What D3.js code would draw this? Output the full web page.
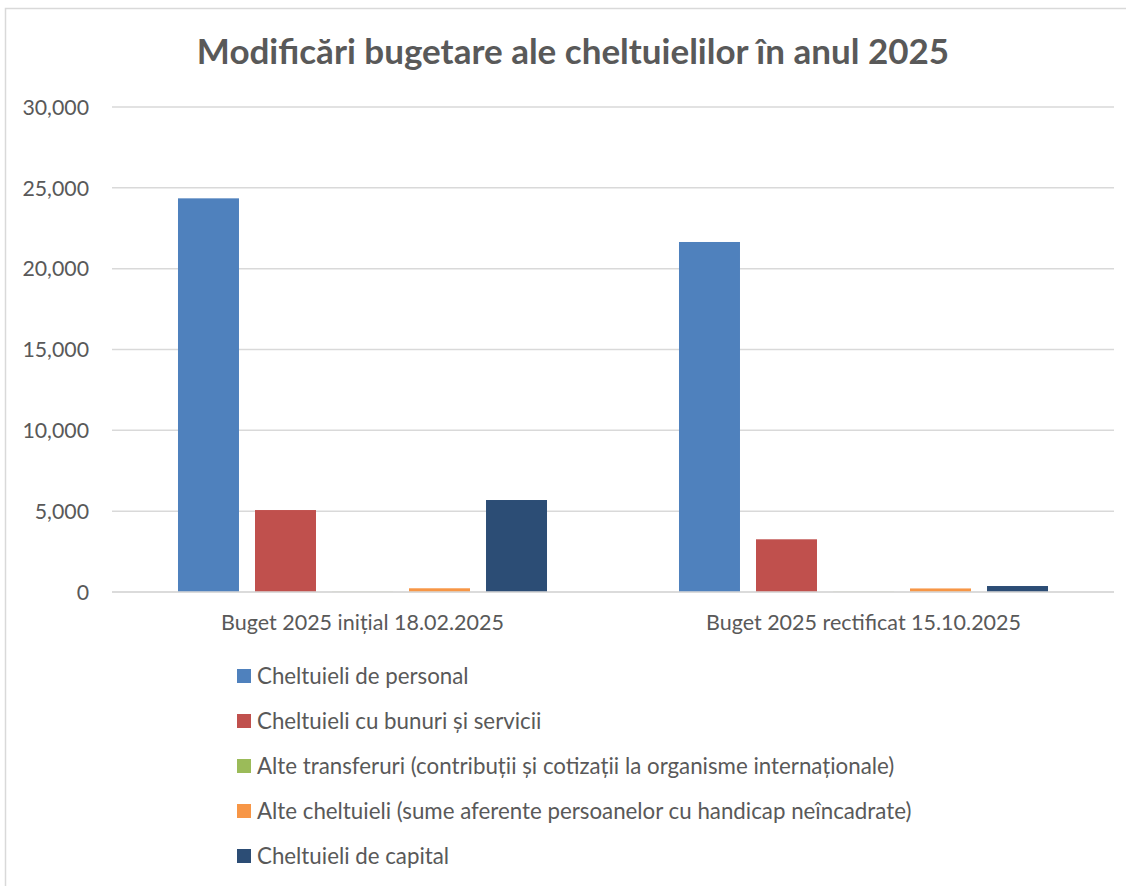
<!DOCTYPE html>
<html>
<head>
<meta charset="utf-8">
<script src="https://cdn.jsdelivr.net/npm/d3@7"></script>
<style>
  body { margin: 0; background: #fff; }
  svg text { font-family: Lato, "Open Sans", sans-serif; fill: #595959; }
</style>
</head>
<body>
<div id="container"></div>
<script>
// data
var categories = ["Buget 2025 inițial 18.02.2025", "Buget 2025 rectificat 15.10.2025"];
var seriesNames = [
  "Cheltuieli de personal",
  "Cheltuieli cu bunuri și servicii",
  "Alte transferuri (contribuții și cotizații la organisme internaționale)",
  "Alte cheltuieli (sume aferente persoanelor cu handicap neîncadrate)",
  "Cheltuieli de capital"
];
var personal = [24350, 21650];
var bunuri = [5070, 3260];
var transferuri = [10, 10];
var alte = [230, 220];
var capital = [5690, 370];
var yTicks = [0, 5000, 10000, 15000, 20000, 25000, 30000];

var colors = ["#4f81bd", "#c0504d", "#9bbb59", "#f79646", "#2c4d75"];
var values = [personal, bunuri, transferuri, alte, capital];

var W = 1126, H = 886;
var plot = {left: 112, right: 1114, top: 107, bottom: 592};

var svg = d3.select("#container").append("svg")
  .attr("width", W)
  .attr("height", H);

// chart frame
svg.append("rect")
  .attr("x", 5.5).attr("y", 8.5)
  .attr("width", 1300).attr("height", 1000)
  .attr("fill", "#fff")
  .attr("stroke", "#d9d9d9")
  .attr("stroke-width", 1.5);

// scales
var x0 = d3.scaleBand()
  .domain(categories)
  .range([plot.left, plot.right]);

var x1 = d3.scaleBand()
  .domain(seriesNames)
  .range([0, x0.bandwidth()])
  .paddingInner(0.208)
  .paddingOuter(0.857);

var yScale = d3.scaleLinear()
  .domain([0, 30000])
  .range([plot.bottom, plot.top]);

var fmt = d3.format(",");

// gridlines
svg.append("g")
  .selectAll("line")
  .data(yTicks)
  .enter().append("line")
    .attr("x1", plot.left).attr("x2", plot.right)
    .attr("y1", function(d) { return yScale(d); })
    .attr("y2", function(d) { return yScale(d); })
    .attr("stroke", "#d9d9d9")
    .attr("stroke-width", 1.5);

// y labels
svg.append("g")
  .selectAll("text")
  .data(yTicks)
  .enter().append("text")
    .attr("x", 89)
    .attr("y", function(d) { return yScale(d); })
    .attr("dy", "0.36em")
    .attr("text-anchor", "end")
    .style("font-size", "21.3px")
    .text(function(d) { return fmt(d); });

// bars
var groups = svg.append("g")
  .selectAll("g")
  .data(categories)
  .enter().append("g")
    .attr("transform", function(d) { return "translate(" + x0(d) + ",0)"; });

groups.selectAll("rect")
  .data(function(c, ci) {
    return seriesNames.map(function(s, si) { return {s: s, v: values[si][ci], i: si}; });
  })
  .enter().append("rect")
    .attr("x", function(d) { return x1(d.s); })
    .attr("width", x1.bandwidth())
    .attr("y", function(d) { return yScale(d.v); })
    .attr("height", function(d) { return yScale(0) - yScale(d.v); })
    .attr("fill", function(d) { return colors[d.i]; });

// baseline on top
svg.append("line")
  .attr("x1", plot.left).attr("x2", plot.right)
  .attr("y1", yScale(0)).attr("y2", yScale(0))
  .attr("stroke", "#d9d9d9")
  .attr("stroke-width", 1.5);

// category labels
svg.append("g")
  .selectAll("text")
  .data(categories)
  .enter().append("text")
    .attr("x", function(d) { return x0(d) + x0.bandwidth() / 2; })
    .attr("y", 630)
    .attr("text-anchor", "middle")
    .style("font-size", "21.5px")
    .text(function(d) { return d; });

// title
svg.append("text")
  .attr("x", 573)
  .attr("y", 64)
  .attr("text-anchor", "middle")
  .style("font-size", "35px")
  .style("font-weight", "bold")
  .text("Modificări bugetare ale cheltuielilor în anul 2025");

// legend
var legend = svg.append("g")
  .selectAll("g")
  .data(seriesNames)
  .enter().append("g")
    .attr("transform", function(d, i) { return "translate(237," + (676 + i * 45) + ")"; });

legend.append("rect")
  .attr("x", 0).attr("y", -7)
  .attr("width", 14).attr("height", 14)
  .attr("fill", function(d, i) { return colors[i]; });

legend.append("text")
  .attr("x", 20)
  .attr("dy", "0.36em")
  .style("font-size", "22.3px")
  .text(function(d) { return d; });
</script>
</body>
</html>
